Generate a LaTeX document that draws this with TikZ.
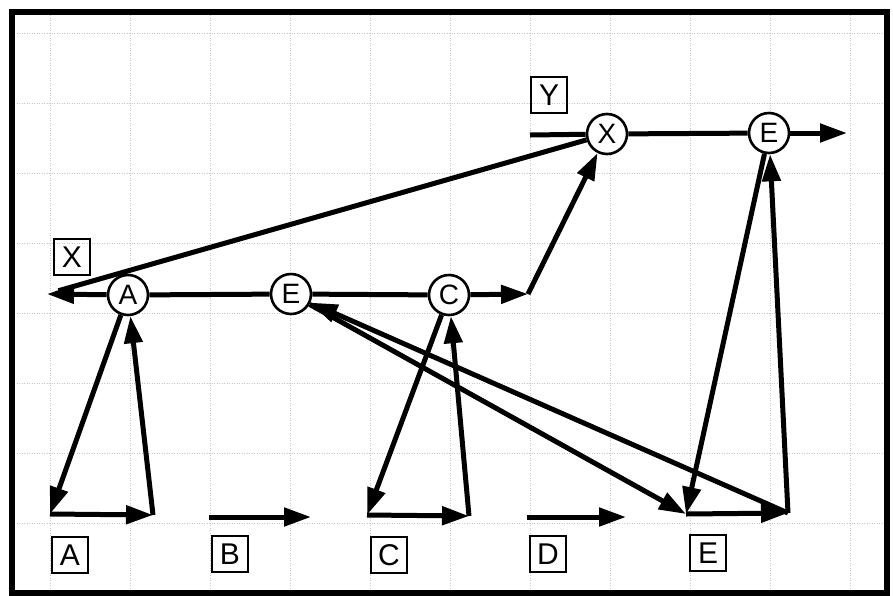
\documentclass[tikz,border=0pt]{standalone}
\usepackage{fontspec}
\setmainfont{Liberation Sans}
\usetikzlibrary{arrows.meta}
\begin{document}
\begin{tikzpicture}[x=1pt,y=-1pt,
  circ/.style={circle,draw,line width=2.6pt,fill=white,minimum size=40pt,inner sep=0pt,font=\fontsize{28}{28}\selectfont},
  lbl/.style={rectangle,draw,line width=2.4pt,minimum size=36pt,inner sep=0pt,font=\fontsize{30}{30}\selectfont},
  flow/.style={line width=5pt},
  arr/.style={flow,-{Triangle[length=27pt,width=18pt]}},
  gridl/.style={black!22,dotted,line width=0.5pt}
]
\useasboundingbox (0,0) rectangle (893,595);
\fill[white] (0,0) rectangle (893,595);
% faint graph-paper grid
\foreach \x in {50,130,...,850} \draw[gridl] (\x,15) -- (\x,590);
\foreach \y in {33,103,...,523} \draw[gridl] (14,\y) -- (885,\y);
% frame
\draw[line width=6pt] (11.5,12) rectangle (887,593);

% circle nodes
\node[circ] (A) at (128,295) {A};
\node[circ] (E1) at (291,294) {E};
\node[circ] (C) at (449,295) {C};
\node[circ] (Xc) at (607,134) {X};
\node[circ] (E2) at (769,133) {E};

% label boxes
\node[lbl] (lX) at (72,257) {X};
\node[lbl] (lY) at (549,95) {Y};
\node[lbl] (lA) at (70,555) {A};
\node[lbl] (lB) at (230,554) {B};
\node[lbl] (lC) at (389,555) {C};
\node[lbl] (lD) at (548,554) {D};
\node[lbl] (lE) at (708,553) {E};

% free ends
\coordinate (L) at (47,294);
\coordinate (cr) at (528,294);
\coordinate (yin) at (530,135);
\coordinate (out) at (847,133);
\coordinate (a1) at (50,514);
\coordinate (a2) at (153,515);
\coordinate (b1) at (209,517);
\coordinate (b2) at (311,517);
\coordinate (c1) at (367,515);
\coordinate (c2) at (469,516);
\coordinate (d1) at (527,517);
\coordinate (d2) at (626,517);
\coordinate (e1) at (686,514);
\coordinate (e2) at (788,513);

% main line
\draw[arr] (A) -- (L);
\draw[flow,shorten >=12pt] (Xc) -- (L);
\draw[flow] (A) -- (E1);
\draw[flow] (E1) -- (C);
\draw[arr] (C) -- (cr);
\draw[arr] (cr) -- (Xc);
\draw[flow] (yin) -- (Xc);
\draw[flow] (Xc) -- (E2);
\draw[arr] (E2) -- (out);

% A loop
\draw[arr] (A) -- (a1);
\draw[arr] (a1) -- (a2);
\draw[arr] (a2) -- (A);
% B
\draw[arr] (b1) -- (b2);
% C loop
\draw[arr] (C) -- (c1);
\draw[arr] (c1) -- (c2);
\draw[arr] (c2) -- (C);
% D
\draw[arr] (d1) -- (d2);
% E loops
\draw[arr] (E1) -- (e1);
\draw[arr] (e2) -- (E1);
\draw[arr] (E2) -- (e1);
\draw[arr] (e1) -- (e2);
\draw[arr] (e2) -- (E2);
\end{tikzpicture}
\end{document}
